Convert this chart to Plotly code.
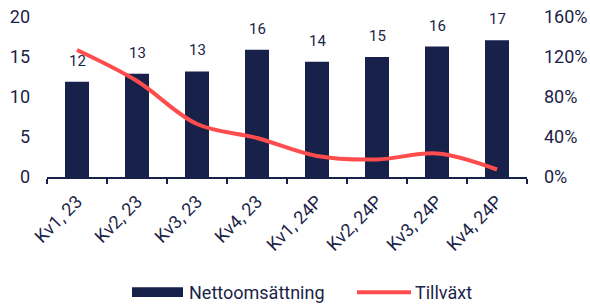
import plotly.graph_objects as go

categories = ["Kv1, 23", "Kv2, 23", "Kv3, 23", "Kv4, 23", "Kv1, 24P", "Kv2, 24P", "Kv3, 24P", "Kv4, 24P"]
net_sales = [11.9, 12.9, 13.2, 15.9, 14.4, 15.0, 16.3, 17.1]
growth = [1.27, 0.96, 0.53, 0.39, 0.21, 0.175, 0.235, 0.075]
left_ticks = [0, 5, 10, 15, 20]
right_ticks = [0, 0.4, 0.8, 1.2, 1.6]

NAVY = "#17214a"
TEXT = "#1b2447"
RED = "#ff4d4d"
FONT = "Roboto"

fig = go.Figure()
fig.add_trace(go.Bar(
    x=categories, y=net_sales, name="Nettoomsättning",
    marker=dict(color=NAVY, line=dict(width=0)), width=0.4,
    showlegend=False, yaxis="y",
))
fig.add_trace(go.Scatter(
    x=categories, y=growth, name="Tillväxt", mode="lines",
    line=dict(color=RED, width=4, shape="spline", smoothing=1.0),
    showlegend=False, yaxis="y2",
))

for c, v in zip(categories, net_sales):
    fig.add_annotation(x=c, y=v, xref="x", yref="y", text=f"{v:.0f}",
                       showarrow=False, yanchor="bottom", yshift=10,
                       font=dict(size=15, color=TEXT, family=FONT))

# Legend (drawn manually to match wide symbols)
def px_x(p):
    return (p - 47) / 480.0

def px_y(p):
    return (177.5 - p) / 160.5

fig.add_shape(type="rect", xref="paper", yref="paper",
              x0=px_x(132), x1=px_x(183), y0=px_y(298), y1=px_y(288),
              fillcolor=NAVY, line=dict(width=0))
fig.add_shape(type="line", xref="paper", yref="paper",
              x0=px_x(357), x1=px_x(411), y0=px_y(293), y1=px_y(293),
              line=dict(color=RED, width=4))
fig.add_annotation(xref="paper", yref="paper", x=px_x(187), y=px_y(293),
                   text="Nettoomsättning", showarrow=False, xanchor="left", yanchor="middle",
                   font=dict(size=18, color=TEXT, family=FONT))
fig.add_annotation(xref="paper", yref="paper", x=px_x(413), y=px_y(293),
                   text="Tillväxt", showarrow=False, xanchor="left", yanchor="middle",
                   font=dict(size=18, color=TEXT, family=FONT))

fig.update_layout(
    width=590, height=304,
    margin=dict(l=47, r=63, t=17, b=126.5, autoexpand=False),
    paper_bgcolor="white", plot_bgcolor="white",
    font=dict(family=FONT, size=18, color=TEXT),
    bargap=0.6,
    xaxis=dict(
        type="category", tickangle=-45, showline=True, linecolor=NAVY, linewidth=2,
        ticks="outside", tickson="boundaries", ticklen=5, tickwidth=2, tickcolor=NAVY,
        showgrid=False, zeroline=False, automargin=False, ticklabelstandoff=5,
        tickfont=dict(size=18, color=TEXT, family=FONT),
    ),
    yaxis=dict(
        range=[0, 20], tickvals=left_ticks, showgrid=False, zeroline=False,
        showline=False, ticks="", ticklabelstandoff=16, automargin=False,
        tickfont=dict(size=18, color=TEXT, family=FONT),
    ),
    yaxis2=dict(
        range=[0, 1.6], tickvals=right_ticks, tickformat=".0%", overlaying="y", side="right",
        showgrid=False, zeroline=False, showline=False, ticks="", ticklabelstandoff=16,
        automargin=False, tickfont=dict(size=18, color=TEXT, family=FONT),
    ),
)

fig.write_html("out.html", config={"displayModeBar": False},
               post_script="document.body.style.margin='0';document.body.style.overflow='hidden';")
